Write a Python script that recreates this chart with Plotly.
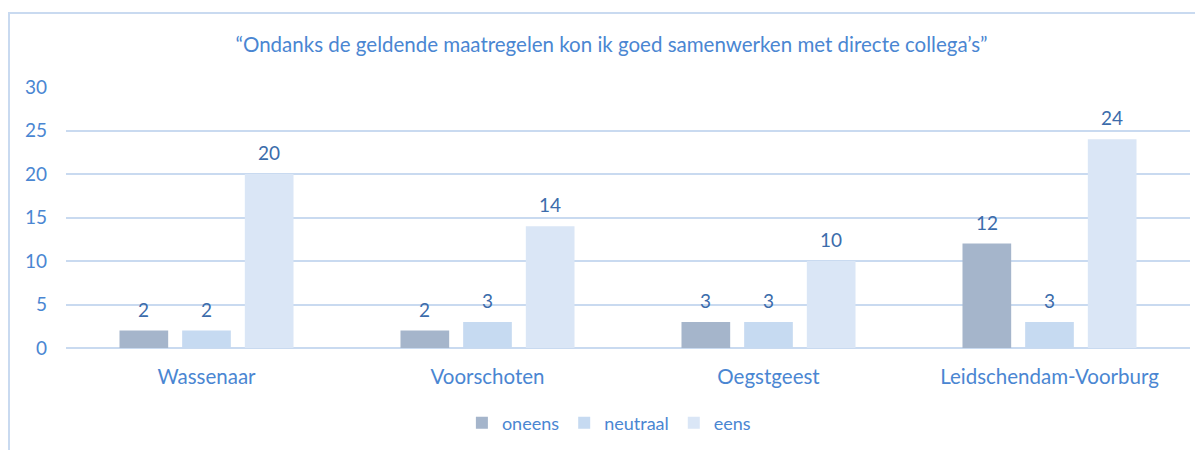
import plotly.graph_objects as go

categories = ["Wassenaar", "Voorschoten", "Oegstgeest", "Leidschendam-Voorburg"]
oneens = [2, 2, 3, 12]
neutraal = [2, 3, 3, 3]
eens = [20, 14, 10, 24]
series_names = ["oneens", "neutraal", "eens"]
series_colors = ["#A5B5CB", "#C6DAF1", "#DAE6F6"]
title_text = "“Ondanks de geldende maatregelen kon ik goed samenwerken met directe collega’s”"

FONT = "Lato"
AXIS_COLOR = "#4A86D2"
LABEL_COLOR = "#3C6CAB"
GRID = "#C9DAF0"

# figure geometry (page has an 8px body margin)
W, H = 1195, 442
ML, MR, MT, MB = 58, 13, 79, 102
PW = W - ML - MR
PH = H - MT - MB
BARGAP = 0.331
BARGROUPGAP = 0.223

fig = go.Figure()
all_series = [oneens, neutraal, eens]
for name, vals, col in zip(series_names, all_series, series_colors):
    fig.add_trace(go.Bar(
        name=name, x=categories, y=vals, marker_color=col, marker_line_width=0,
    ))

# data labels above bars, offset like the original
cat_px = PW / len(categories)
slot_px = cat_px * (1 - BARGAP) / len(all_series)
for i, vals in enumerate(all_series):
    dx = (i - (len(all_series) - 1) / 2) * slot_px
    for c, v in zip(categories, vals):
        fig.add_annotation(x=c, y=v, text=str(v), showarrow=False,
                           xshift=dx, yanchor="bottom", yshift=8,
                           font=dict(family=FONT, size=19, color=LABEL_COLOR))

fig.update_layout(
    width=W, height=H,
    margin=dict(l=ML, r=MR, t=MT, b=MB, autoexpand=False),
    paper_bgcolor="white", plot_bgcolor="white",
    barmode="group", bargap=BARGAP, bargroupgap=BARGROUPGAP,
    title=dict(text=title_text, x=0.505, xanchor="center", yref="container",
               y=1 - 37 / H, yanchor="middle",
               font=dict(family=FONT, size=20.5, color=AXIS_COLOR)),
    font=dict(family=FONT, color=AXIS_COLOR),
    legend=dict(orientation="h", x=0.483, xanchor="center",
                y=(MT + PH - 415) / PH, yanchor="middle",
                font=dict(family=FONT, size=18, color=AXIS_COLOR),
                itemwidth=30, traceorder="normal"),
    showlegend=True,
)
fig.update_yaxes(range=[0, 30], dtick=5, showgrid=True, gridcolor=GRID, gridwidth=2,
                 zeroline=True, zerolinecolor=GRID, zerolinewidth=2,
                 tickfont=dict(family=FONT, size=19, color=AXIS_COLOR),
                 ticks="", ticklabelstandoff=18, showline=False)
fig.update_xaxes(showgrid=False, showline=False, ticks="",
                 tickfont=dict(family=FONT, size=20.5, color=AXIS_COLOR),
                 ticklabelstandoff=14)

# outer chart border
fig.add_shape(type="rect", xref="paper", yref="paper",
              x0=(1 - ML) / PW, x1=(W + 10 - ML) / PW,
              y0=-(MB + 10) / PH, y1=(PH + MT - 5) / PH,
              line=dict(color="#C9DAF0", width=2), layer="below")

fig.write_html("out.html")
